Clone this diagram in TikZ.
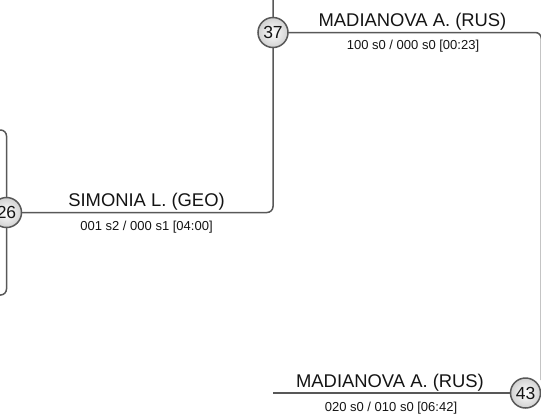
\documentclass[tikz,border=0pt]{standalone}
\usepackage{fontspec}
\setmainfont{Liberation Sans}
\definecolor{linegray}{HTML}{585858}
\definecolor{txt}{HTML}{141414}
\tikzset{
  conn/.style={draw=linegray, line width=1.5pt, rounded corners=6pt},
  seedcirc/.style={circle, draw=linegray, line width=1.5pt, minimum size=30pt, inner sep=0pt,
    inner color=white, outer color=black!18, font=\fontsize{17.5}{17.5}\selectfont, text=txt},
  playername/.style={anchor=base, font=\fontsize{18.4}{18.4}\selectfont, text=txt, inner sep=0pt},
  matchscore/.style={anchor=base, font=\fontsize{13}{13}\selectfont, text=txt, inner sep=0pt}
}
\begin{document}
\begin{tikzpicture}[x=1pt, y=-1pt]
\useasboundingbox (0,0) rectangle (541,416);
% centres and free ends
\coordinate (p26) at (6.5,212.5);
\coordinate (p37) at (273,32.5);
\coordinate (p43) at (525.5,393);
\coordinate (lt) at (-2,130);
\coordinate (lb) at (-2,295);
\coordinate (top) at (273,-2);
\coordinate (rb) at (541.3,380);
\coordinate (bl) at (273,393);
% connectors
\draw[conn] (lt) -| (p26) |- (lb);
\draw[conn] (p26) -| (top);
\draw[conn] (p37) -| (rb);
\draw[conn] (bl) -- (p43);
% seeds
\node[seedcirc] (c26) at (p26) {26};
\node[seedcirc] (c37) at (p37) {37};
\node[seedcirc] (c43) at (p43) {43};
% labels
\node[playername] (n1) at (146.5,206) {SIMONIA L. (GEO)};
\node[matchscore] (s1) at (146.5,230) {001 s2 / 000 s1 [04:00]};
\node[playername] (n2) at (412.5,26) {MADIANOVA A. (RUS)};
\node[matchscore] (s2) at (413,49.3) {100 s0 / 000 s0 [00:23]};
\node[playername] (n3) at (390,387) {MADIANOVA A. (RUS)};
\node[matchscore] (s3) at (391,411) {020 s0 / 010 s0 [06:42]};
\end{tikzpicture}
\end{document}
